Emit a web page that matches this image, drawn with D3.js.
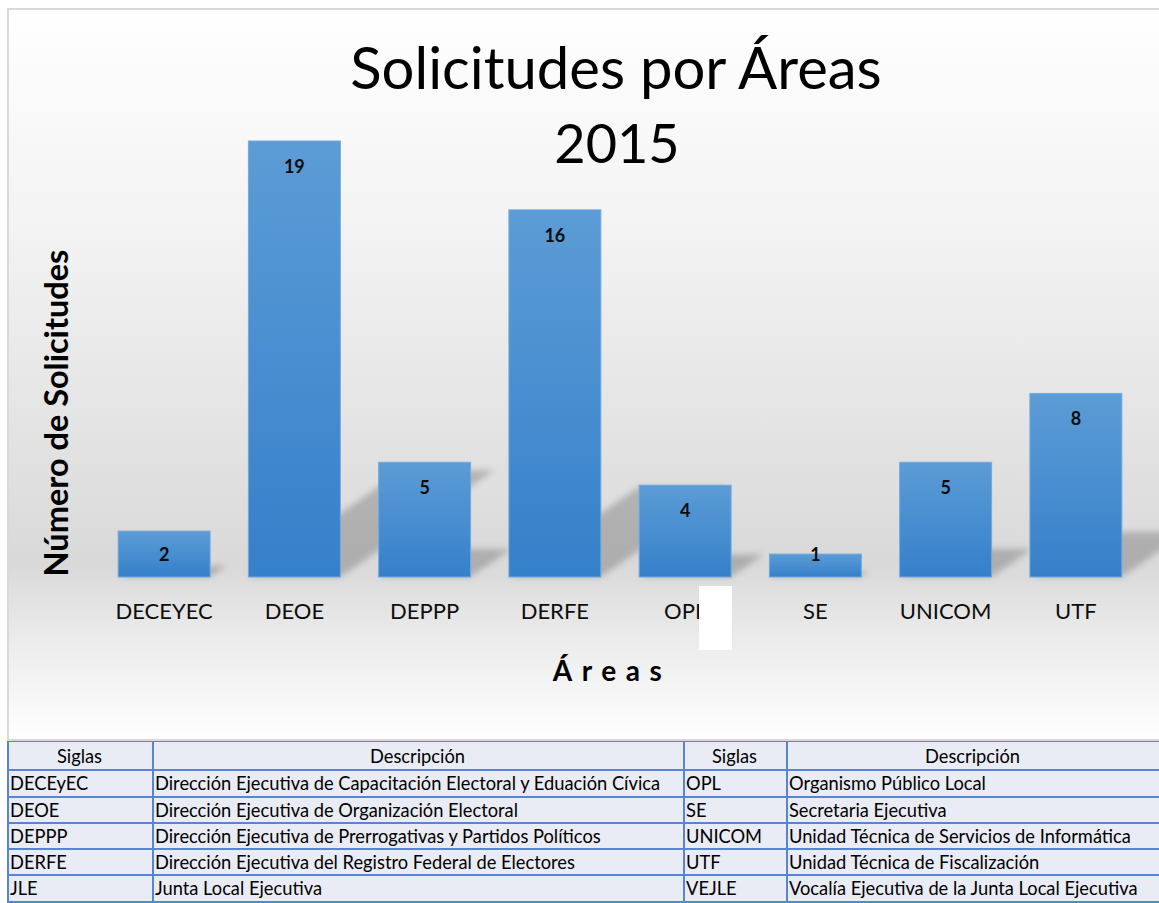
<!DOCTYPE html>
<html><head><meta charset="utf-8">
<script src="https://cdn.jsdelivr.net/npm/d3@7"></script>
<style>
html,body{margin:0;padding:0;background:#fff;}
svg{display:block;}
</style></head>
<body>
<svg id="c" width="1159" height="903"></svg>
<script>
const titleLines = ["Solicitudes por Áreas", "2015"];
const categories = ["DECEYEC","DEOE","DEPPP","DERFE","OPL","SE","UNICOM","UTF"];
const values = [2,19,5,16,4,1,5,8];
const xTitle = "Áreas";
const yTitle = "Número de Solicitudes";
const tableHeaders = ["Siglas","Descripción","Siglas","Descripción"];
const siglasLeft = ["DECEyEC","DEOE","DEPPP","DERFE","JLE"];
const descLeft = ["Dirección Ejecutiva de Capacitación Electoral y Eduación Cívica","Dirección Ejecutiva de Organización Electoral","Dirección Ejecutiva de Prerrogativas y Partidos Políticos","Dirección Ejecutiva del Registro Federal de Electores","Junta Local Ejecutiva"];
const siglasRight = ["OPL","SE","UNICOM","UTF","VEJLE"];
const descRight = ["Organismo Público Local","Secretaria Ejecutiva","Unidad Técnica de Servicios de Informática","Unidad Técnica de Fiscalización","Vocalía Ejecutiva de la Junta Local Ejecutiva"];

const FONT = "Lato, 'Open Sans', sans-serif";
const svg = d3.select("#c");
const defs = svg.append("defs");

// background gradient
const bg = defs.append("linearGradient").attr("id","bg").attr("x1",0).attr("y1",0).attr("x2",0).attr("y2",1);
[[0,"#ffffff"],[0.3,"#f3f3f3"],[0.76,"#d9d9d9"],[0.86,"#ebebeb"],[1,"#ffffff"]].forEach(s=>bg.append("stop").attr("offset",s[0]).attr("stop-color",s[1]));
const bar = defs.append("linearGradient").attr("id","bar").attr("x1",0).attr("y1",0).attr("x2",0).attr("y2",1);
[[0,"#5c9cd6"],[1,"#3580ca"]].forEach(s=>bar.append("stop").attr("offset",s[0]).attr("stop-color",s[1]));
const blur = defs.append("filter").attr("id","blur").attr("x","-20%").attr("y","-20%").attr("width","140%").attr("height","140%");
blur.append("feGaussianBlur").attr("stdDeviation",3);

// chart area
svg.append("rect").attr("x",7).attr("y",8).attr("width",1152).attr("height",732).attr("fill","url(#bg)");
svg.append("line").attr("x1",7).attr("x2",1159).attr("y1",9).attr("y2",9).attr("stroke","#d9d9d9").attr("stroke-width",2);
svg.append("line").attr("x1",8).attr("x2",8).attr("y1",8).attr("y2",740).attr("stroke","#d9d9d9").attr("stroke-width",2);

const x = d3.scaleBand().domain(categories).range([99,1141]).paddingInner(0.294).paddingOuter(0.147);
const y = d3.scaleLinear().domain([0,19]).range([577,141]);
const base = y(0);

const clip = defs.append("clipPath").attr("id","clipArea");
clip.append("rect").attr("x",9).attr("y",10).attr("width",1150).attr("height",728);

// shadows
const shadowG = svg.append("g").attr("clip-path","url(#clipArea)").append("g").attr("filter","url(#blur)");
const sa = 0.353, sb = 0.245;
shadowG.selectAll("path").data(categories).join("path")
  .attr("d",(c,i)=>{
    const x0 = x(c), x1 = x(c)+x.bandwidth(), h = base - y(values[i]);
    return `M${x0},${base}L${x1},${base}L${x1+h*sa},${base-h*sb}L${x0+h*sa},${base-h*sb}Z`;
  })
  .attr("fill","#000").attr("fill-opacity",0.2);

// bars
svg.append("g").selectAll("rect").data(categories).join("rect")
  .attr("x",c=>x(c)).attr("width",x.bandwidth())
  .attr("y",(c,i)=>y(values[i])).attr("height",(c,i)=>base-y(values[i]))
  .attr("fill","url(#bar)").attr("stroke","#72aadf").attr("stroke-width",1);

// data labels
svg.append("g").selectAll("text").data(categories).join("text")
  .attr("x",c=>x(c)+x.bandwidth()/2)
  .attr("y",(c,i)=>Math.min(y(values[i])+32, base-16))
  .attr("text-anchor","middle").attr("font-family",FONT).attr("font-weight","bold")
  .attr("font-size",18).attr("fill","#0d0d0d").text((c,i)=>values[i]);

// x axis labels
const xa = svg.append("g").attr("transform",`translate(0,${base})`).call(d3.axisBottom(x).tickSize(0).tickPadding(0));
xa.select(".domain").remove();
xa.selectAll("text").attr("font-family",FONT).attr("font-size",22).attr("fill","#0d0d0d").attr("dy",0).attr("y",42);

// white patch
svg.append("rect").attr("x",699).attr("y",586).attr("width",33).attr("height",64).attr("fill","#ffffff");

// titles
svg.append("text").attr("x",616).attr("y",89).attr("text-anchor","middle").attr("font-family",FONT).attr("font-size",58).attr("fill","#000").text(titleLines[0]);
svg.append("text").attr("x",617).attr("y",163).attr("text-anchor","middle").attr("font-family",FONT).attr("font-size",54).attr("fill","#000").text(titleLines[1]);
svg.append("text").attr("x",612).attr("y",681).attr("text-anchor","middle").attr("font-family",FONT).attr("font-weight","bold").attr("font-size",28).attr("letter-spacing","0.34em").attr("fill","#000").text(xTitle);
svg.append("text").attr("transform","translate(68,413) rotate(-90)").attr("text-anchor","middle").attr("font-family",FONT).attr("font-weight","bold").attr("font-size",32.5).attr("fill","#000").text(yTitle);

// table
const rowsY = [741,770,797,823,849,875,902];
const colX = [7,152,683,786,1159];
const tg = svg.append("g");
tg.append("rect").attr("x",7).attr("y",741).attr("width",1152).attr("height",162).attr("fill","#e9ecf5");
const rows = siglasLeft.map((s,i)=>[s,descLeft[i],siglasRight[i],descRight[i]]);
// header
tg.selectAll("text.h").data(tableHeaders).join("text").attr("class","h")
  .attr("x",(d,i)=>(colX[i]+colX[i+1])/2).attr("y",rowsY[0]+22)
  .attr("text-anchor","middle").attr("font-family",FONT).attr("font-size",18.3).attr("fill","#000").text(d=>d);
rows.forEach((r,ri)=>{
  tg.selectAll(null).data(r).join("text")
    .attr("x",(d,i)=>colX[i]+3).attr("y",rowsY[ri+1]+20)
    .attr("font-family",FONT).attr("font-size",18.3).attr("fill","#000").text(d=>d);
});
tg.selectAll("line.hz").data(rowsY).join("line").attr("class","hz")
  .attr("x1",7).attr("x2",1159).attr("y1",d=>d).attr("y2",d=>d).attr("stroke","#5585d4").attr("stroke-width",2);
tg.selectAll("line.vt").data(colX.slice(0,4)).join("line").attr("class","vt")
  .attr("x1",d=>d+1).attr("x2",d=>d+1).attr("y1",741).attr("y2",903).attr("stroke","#5585d4").attr("stroke-width",2);
svg.append("line").attr("x1",7).attr("x2",1159).attr("y1",740).attr("y2",740).attr("stroke","#d9d9d9").attr("stroke-width",2);
</script>
</body></html>
